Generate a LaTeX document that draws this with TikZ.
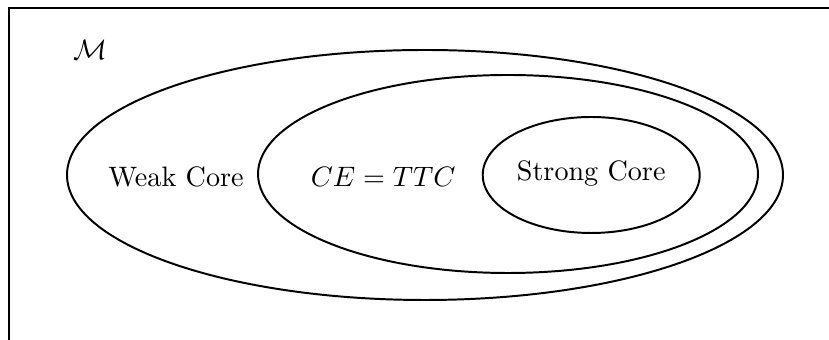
\documentclass[tikz,border=0pt]{standalone}
\usepackage{amsmath}

\begin{document}
\begin{tikzpicture}[line width=0.7pt, every node/.style={text=black}]
  \useasboundingbox (0,0) rectangle (10.3625,4.25);
  % The frame runs past the right and bottom edges.
  \begin{scope}
    \clip (0,0) rectangle (10.3625,4.25);
    \draw[line width=1pt] (0.1125,-1) -- (0.1125,4.15) -- (11.5,4.15);
  \end{scope}

  \draw (5.3125,2.0625) ellipse [x radius=4.475, y radius=1.5625];
  \draw (6.35,2.075) ellipse [x radius=3.125, y radius=1.2375];
  \draw (7.39,2.0625) ellipse [x radius=1.356, y radius=0.725];

  \node (space) at (1.125,3.62) {$\mathcal{M}$};
  \node (weak) at (2.2,2.04) {Weak Core};
  \node (cettc) at (4.79,2.04) {$CE = TTC$};
  \node (strong) at (7.39,2.08) {Strong Core};
\end{tikzpicture}
\end{document}
